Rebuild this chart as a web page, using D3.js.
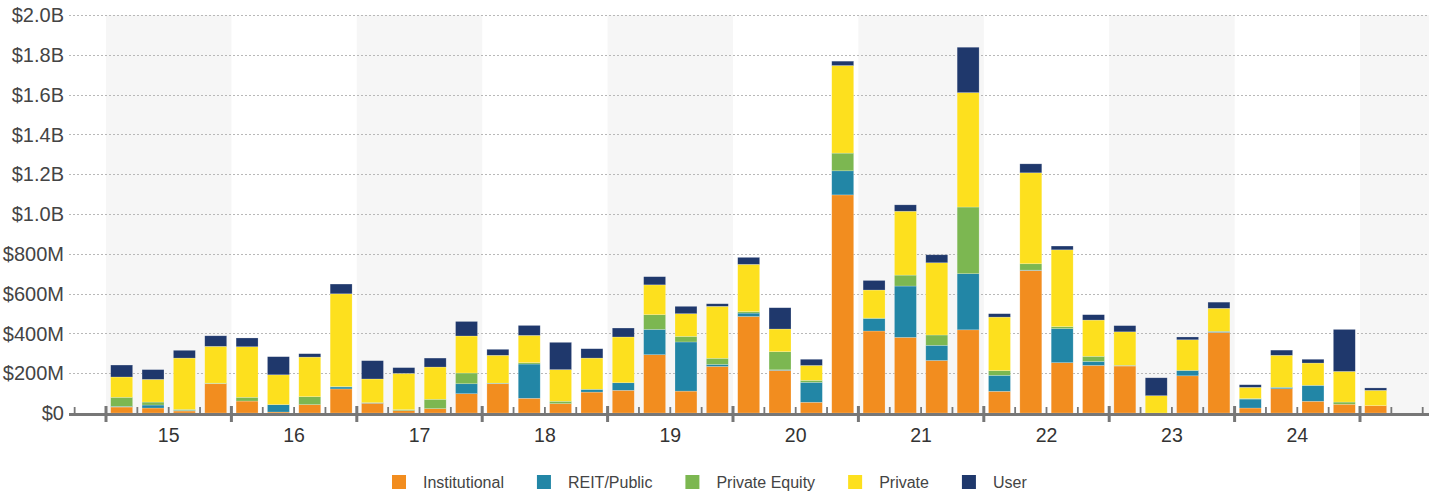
<!DOCTYPE html>
<html>
<head>
<meta charset="utf-8">
<script src="https://cdn.jsdelivr.net/npm/d3@7"></script>
<style>
  html, body { margin: 0; padding: 0; background: #fff; }
  svg { display: block; font-family: "Liberation Sans", Arial, sans-serif; }
</style>
</head>
<body>
<svg id="chart" width="1437" height="494"></svg>
<script>
// Quarters 2015Q1 .. 2025Q1
const quarters = ["15Q1","15Q2","15Q3","15Q4","16Q1","16Q2","16Q3","16Q4","17Q1","17Q2","17Q3","17Q4",
  "18Q1","18Q2","18Q3","18Q4","19Q1","19Q2","19Q3","19Q4","20Q1","20Q2","20Q3","20Q4",
  "21Q1","21Q2","21Q3","21Q4","22Q1","22Q2","22Q3","22Q4","23Q1","23Q2","23Q3","23Q4",
  "24Q1","24Q2","24Q3","24Q4","25Q1"];
const yearLabels = ["15","16","17","18","19","20","21","22","23","24"];
const seriesNames = ["Institutional","REIT/Public","Private Equity","Private","User"];
const seriesColors = ["#F28D1F","#2286A6","#7CB751","#FDE01E","#1F386C"];

// values in $M
const institutional = [30,25,10,147,60,5,42,121,49,12,22,97,147,74,47,105,114,293,110,234,485,214,54,1096,412,380,264,418,109,716,253,239,236,0,187,405,25,122,59,44,37];
const reitPublic    = [3,15,3,0,0,37,0,10,3,0,0,50,3,172,0,14,38,127,247,10,17,3,100,121,62,258,76,282,80,2,171,20,3,0,27,5,45,7,80,0,0];
const privateEquity = [46,15,5,3,19,0,40,2,0,5,47,54,0,7,12,0,0,74,28,31,7,91,10,89,3,55,52,335,24,32,10,26,0,0,0,0,3,0,0,11,0];
const privateVals   = [102,114,258,185,254,150,199,466,119,182,162,186,140,137,159,157,230,150,114,261,238,114,75,440,141,321,363,575,269,457,386,182,169,87,154,116,56,161,112,154,77];
const userVals      = [60,49,39,53,44,91,17,49,92,29,45,73,30,50,137,47,45,41,37,13,35,107,31,22,48,32,40,228,17,45,19,27,31,90,14,31,13,26,19,211,12];
const yTicks = [0,200,400,600,800,1000,1200,1400,1600,1800,2000];

const seriesData = [institutional, reitPublic, privateEquity, privateVals, userVals];
const rows = quarters.map((q, i) => {
  const r = { q };
  seriesNames.forEach((s, k) => r[s] = seriesData[k][i]);
  return r;
});

const svg = d3.select("#chart");
const plotLeft = 69, plotRight = 1429, plotTop = 15, plotBase = 413;
const slotStart = 106, slotEnd = 1422.7; // 42 quarter slots (41 data + 1 empty)
const nSlots = 42;

const y = d3.scaleLinear().domain([0, 2000]).range([plotBase, plotTop]);
const xs = d3.scaleLinear().domain([0, nSlots]).range([slotStart, slotEnd]);
const step = (slotEnd - slotStart) / nSlots;
const x = d3.scaleBand().domain(quarters).range([slotStart, slotStart + step * quarters.length])
  .paddingInner(0.3).paddingOuter(0.15);

// shaded bands for alternate years (15,17,19,21,23,25)
const bandYears = [0, 2, 4, 6, 8, 10];
svg.append("g").selectAll("rect").data(bandYears).join("rect")
  .attr("x", d => xs(d * 4))
  .attr("width", d => Math.min(xs(d * 4 + 4), plotRight) - xs(d * 4))
  .attr("y", plotTop).attr("height", plotBase - plotTop)
  .attr("fill", "#f6f6f6");

// gridlines
svg.append("g").selectAll("line").data(yTicks.filter(d => d > 0)).join("line")
  .attr("x1", plotLeft).attr("x2", plotRight)
  .attr("y1", d => Math.round(y(d)) + 0.5).attr("y2", d => Math.round(y(d)) + 0.5)
  .attr("stroke", "#b8b8b8").attr("stroke-width", 1).attr("stroke-dasharray", "2,2");

// y labels
const fmt = d => d === 0 ? "$0" : (d >= 1000 ? "$" + (d / 1000).toFixed(1) + "B" : "$" + d + "M");
svg.append("g").selectAll("text").data(yTicks).join("text")
  .attr("x", 64).attr("y", d => y(d)).attr("dy", "0.36em")
  .attr("text-anchor", "end").attr("font-size", 20).attr("fill", "#444")
  .text(fmt);

// stacked bars
const stack = d3.stack().keys(seriesNames)(rows);
svg.append("g").selectAll("g").data(stack).join("g")
  .attr("fill", (d, i) => seriesColors[i])
  .selectAll("rect").data(d => d).join("rect")
  .attr("x", d => x(d.data.q))
  .attr("width", x.bandwidth())
  .attr("y", d => y(d[1]))
  .attr("height", d => Math.max(0, y(d[0]) - y(d[1])))
  .attr("stroke", "rgba(255,255,255,0.35)").attr("stroke-width", 0.6);

// x axis line
svg.append("line").attr("x1", plotLeft).attr("x2", plotRight)
  .attr("y1", plotBase + 1.5).attr("y2", plotBase + 1.5)
  .attr("stroke", "#777").attr("stroke-width", 3);

// ticks: quarter boundaries from -1 to 42
const tickIdx = d3.range(-1, nSlots + 1);
const isMajor = d => d % 4 === 0 && d >= 0 && d <= 40;
svg.append("g").selectAll("line").data(tickIdx).join("line")
  .attr("x1", d => xs(d)).attr("x2", d => xs(d))
  .attr("y1", d => isMajor(d) ? plotBase - 7 : plotBase - 6)
  .attr("y2", d => isMajor(d) ? plotBase + 9 : plotBase)
  .attr("stroke", "#777")
  .attr("stroke-width", d => isMajor(d) ? 3 : 1.8);

// year labels
svg.append("g").selectAll("text").data(yearLabels).join("text")
  .attr("x", (d, i) => xs(i * 4 + 2)).attr("y", 442)
  .attr("text-anchor", "middle").attr("font-size", 19.5).attr("fill", "#333")
  .text(d => d);

// legend
const lg = svg.append("g");
let lx = 392;
seriesNames.forEach((s, i) => {
  lg.append("rect").attr("x", lx).attr("y", 475).attr("width", 14).attr("height", 14)
    .attr("fill", seriesColors[i]);
  const t = lg.append("text").attr("x", lx + 31).attr("y", 482).attr("dy", "0.35em")
    .attr("font-size", 16).attr("fill", "#444").text(s);
  lx += 31 + t.node().getComputedTextLength() + 33;
});
</script>
</body>
</html>
